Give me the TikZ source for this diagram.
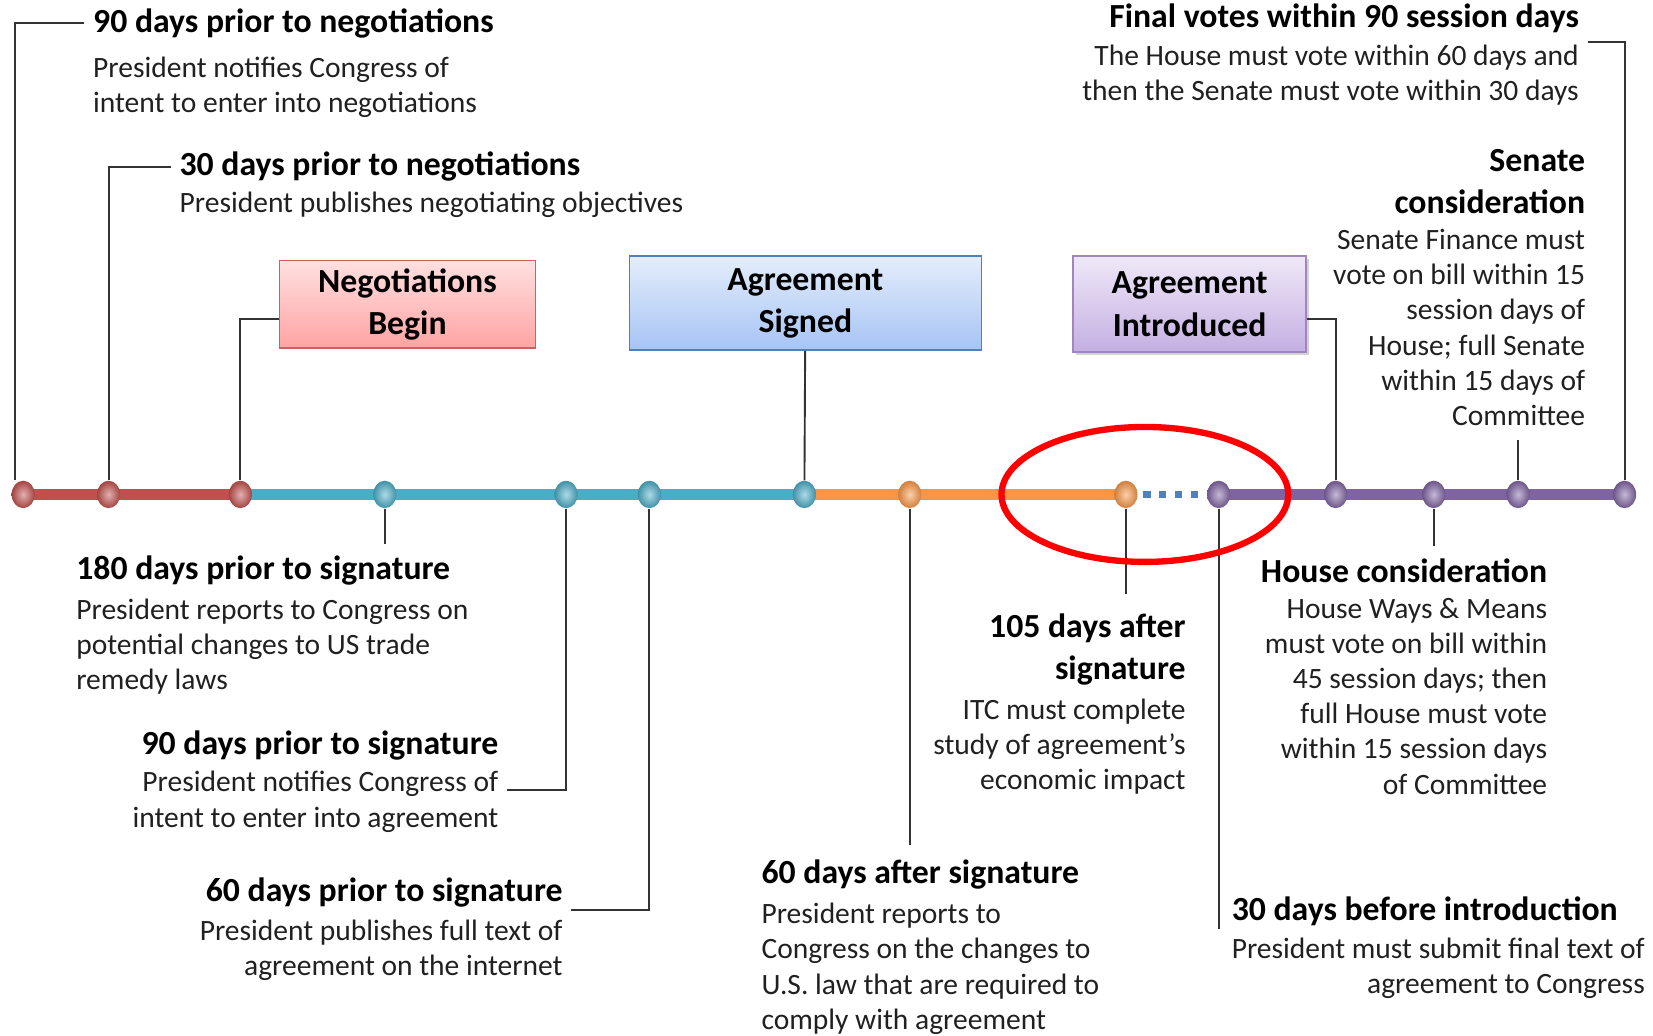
\documentclass[tikz,border=0pt]{standalone}
\usepackage{fontspec}
\setmainfont{Carlito}
\usetikzlibrary{positioning,shapes.geometric,shadows,backgrounds}

\definecolor{redbar}{HTML}{C0504D}
\definecolor{bluebar}{HTML}{4BACC6}
\definecolor{orangebar}{HTML}{F79646}
\definecolor{purplebar}{HTML}{8064A2}
\definecolor{gapblue}{HTML}{4F81BD}
\definecolor{ink}{HTML}{202020}
\definecolor{nbline}{HTML}{D0605D}
\definecolor{nbtop}{HTML}{FFE0E0}
\definecolor{nbbot}{HTML}{FFA3A3}
\definecolor{asline}{HTML}{4F81BD}
\definecolor{astop}{HTML}{E4EDFB}
\definecolor{asbot}{HTML}{A6C4F5}
\definecolor{ailine}{HTML}{9F86C0}
\definecolor{aitop}{HTML}{EFE8F8}
\definecolor{aibot}{HTML}{C4AFE2}

\newcommand{\headfont}{\fontsize{16}{20}\selectfont\bfseries}
\newcommand{\bodyfont}{\fontsize{14}{16.7}\selectfont}

\tikzset{
    head/.style={font=\headfont, text=black, inner xsep=4pt, inner ysep=1pt},
    body/.style={font=\bodyfont, text=ink, inner xsep=4pt, inner ysep=1pt},
    link/.style={draw=black!80, line width=0.9pt},
    timebar/.style={draw=#1, line width=5pt},
    dot/.style={ellipse, minimum width=11pt, minimum height=13pt, inner sep=0pt,
        inner color=#1!45!white, outer color=#1!85!black},
    stagebox/.style={rectangle, font=\headfont, align=center, line width=0.8pt, inner sep=0pt}
}

\begin{document}
\begin{tikzpicture}[x=0.5pt, y=-0.5pt]
    \useasboundingbox (0,0) rectangle (1568,982);

    % points on the timeline
    \foreach \n/\x/\col in {r1/22/redbar, r2/103/redbar, r3/228/redbar,
        b1/365/bluebar, b2/537/bluebar, b3/616/bluebar, b4/763/bluebar,
        o1/863/orangebar, o2/1068/orangebar,
        p1/1156/purplebar, p2/1267/purplebar, p3/1360/purplebar,
        p4/1440/purplebar, p5/1541/purplebar}
        \node[dot=\col] (\n) at (\x,469) {};

    % the three stages
    \node[stagebox, draw=nbline, top color=nbtop, bottom color=nbbot,
        minimum width=121.5pt, minimum height=41.5pt] (nb) at (386.5,288.5) {Negotiations\\Begin};
    \node[stagebox, draw=asline, top color=astop, bottom color=asbot,
        minimum width=167pt, minimum height=44.5pt] (as) at (764,287.5) {Agreement\\Signed};
    \node[stagebox, draw=ailine, top color=aitop, bottom color=aibot,
        drop shadow={shadow xshift=1.5pt, shadow yshift=-1.5pt, opacity=0.35},
        minimum width=110.5pt, minimum height=45.5pt] (ai) at (1128.5,288.5) {Agreement\\Introduced};

    % bars behind the points
    \begin{scope}[on background layer]
        \draw[timebar=redbar] (r1.center) -- (r3.center);
        \draw[timebar=bluebar] (r3.center) -- (b4.center);
        \draw[timebar=orangebar] (b4.center) -- (o2.center);
        \draw[gapblue, line width=3.5pt, dash pattern=on 3.5pt off 4pt,
            shorten <=2.5pt, shorten >=2.5pt] (o2.east) -- (p1.west);
        \draw[timebar=purplebar] (p1.center) -- (p5.center);
    \end{scope}

    % labels above the line
    \node[head, anchor=west] (h1) at (80,22) {90 days prior to negotiations};
    \node[body, align=left, below=6.5pt of h1.south west, anchor=north west] (t1)
        {President notifies Congress of\\intent to enter into negotiations};
    \node[head, anchor=west] (h2) at (162,158) {30 days prior to negotiations};
    \node[body, align=left, below=2.5pt of h2.south west, anchor=north west] (t2)
        {President publishes negotiating objectives};
    \node[head, anchor=east] (h14) at (1506,17) {Final votes within 90 session days};
    \node[body, align=right, below=3.5pt of h14.south east, anchor=north east] (t14)
        {The House must vote within 60 days and\\then the Senate must vote within 30 days};
    \node[head, align=right, anchor=east] (h13) at (1512,172) {Senate\\consideration};
    \node[body, align=right, below=5pt of h13.south east, anchor=north east] (t13)
        {Senate Finance must\\vote on bill within 15\\session days of\\House; full Senate\\within 15 days of\\Committee};

    % labels below the line
    \node[head, anchor=west] (h4) at (64,541) {180 days prior to signature};
    \node[body, align=left, below=4pt of h4.south west, anchor=north west] (t4)
        {President reports to Congress on\\potential changes to US trade\\remedy laws};
    \node[head, anchor=east] (h5) at (481,707) {90 days prior to signature};
    \node[body, align=right, below=3pt of h5.south east, anchor=north east] (t5)
        {President notifies Congress of\\intent to enter into agreement};
    \node[head, anchor=east] (h6) at (542,847) {60 days prior to signature};
    \node[body, align=right, below=3.5pt of h6.south east, anchor=north east] (t6)
        {President publishes full text of\\agreement on the internet};
    \node[head, anchor=west] (h8) at (714,830) {60 days after signature};
    \node[body, align=left, below=4pt of h8.south west, anchor=north west] (t8)
        {President reports to\\Congress on the changes to\\U.S. law that are required to\\comply with agreement};
    \node[head, align=right, anchor=east] (h9) at (1133,616) {105 days after\\signature};
    \node[body, align=right, below=4pt of h9.south east, anchor=north east] (t9)
        {ITC must complete\\study of agreement’s\\economic impact};
    \node[head, anchor=west] (h10) at (1160,864) {30 days before introduction};
    \node[body, align=right, below=3.5pt of h10.south west, anchor=north west] (t10)
        {President must submit final text of\\agreement to Congress};
    \node[head, anchor=east] (h12) at (1476,541) {House consideration};
    \node[body, align=right, below=5pt of h12.south east, anchor=north east] (t12)
        {House Ways \& Means\\must vote on bill within\\45 session days; then\\full House must vote\\within 15 session days\\of Committee};

    % connectors
    \draw[link] ([xshift=-4pt]r1.north) |- (h1.west);
    \draw[link] (r2) |- (h2.west);
    \draw[link] (r3) |- ([yshift=-7pt]nb.west);
    \draw[link, shorten >=4.5pt] (b1) -- (b1 |- h4.north);
    \draw[link] (b2) |- ([yshift=5.5pt]t5.east);
    \draw[link] (b3) |- (h6.south east);
    \draw[link] (b4) -- (as);
    \draw[link, shorten >=6pt] (o1) -- (o1 |- h8.north);
    \draw[link, shorten >=8pt] (o2) -- (o2 |- h9.north);
    \draw[link, shorten >=3pt] (p1) -- (p1 |- t10.north);
    \draw[link] (p2) |- ([yshift=-7pt]ai.east);
    \draw[link, shorten >=4.5pt] (p3) -- (p3 |- h12.north);
    \draw[link, shorten >=5.5pt] (p4) -- (p4 |- t13.south);
    \draw[link] (p5) |- (t14.north east);

    % highlight round the gap
    \draw[red, line width=3pt] (1086,469) ellipse [x radius=68pt, y radius=32pt];
\end{tikzpicture}
\end{document}
